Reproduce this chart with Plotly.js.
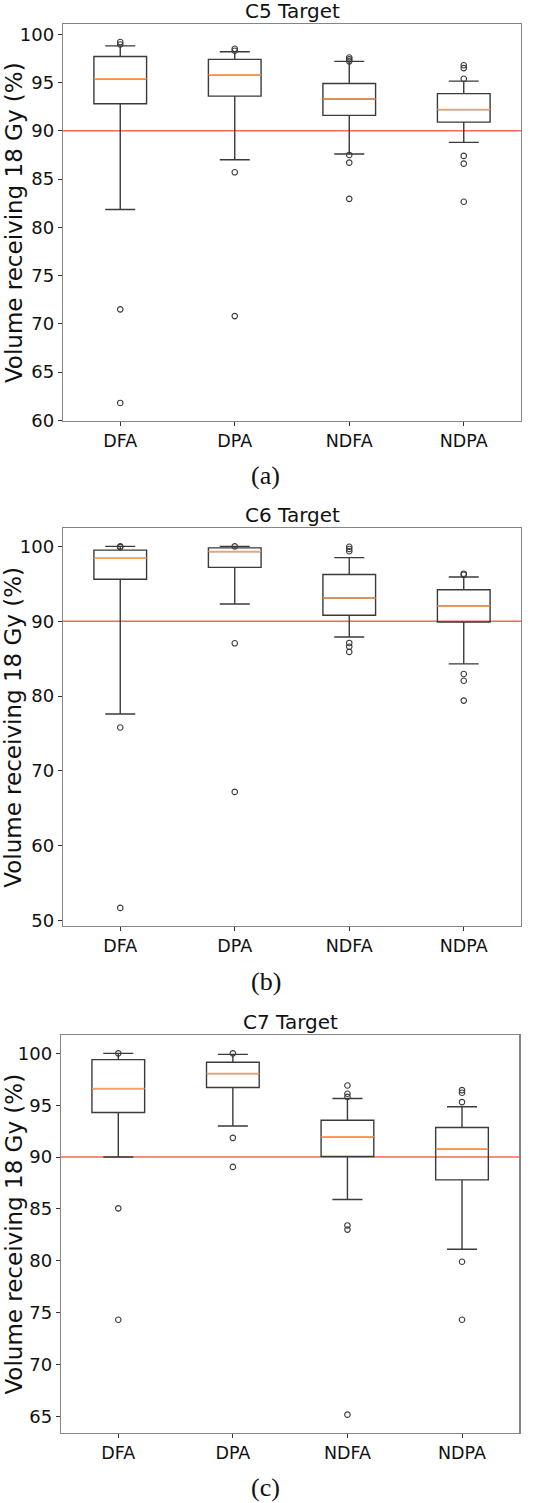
<!DOCTYPE html>
<html>
<head>
<meta charset="utf-8">
<script src="https://cdn.plot.ly/plotly-3.0.1.min.js"></script>
<style>
  html, body { margin: 0; padding: 0; background: #ffffff; }
  #chart { width: 541px; height: 1503px; }
</style>
</head>
<body>
<div id="chart"></div>
<script>
// ---------------- data ----------------
const categories = ['DFA', 'DPA', 'NDFA', 'NDPA'];
const positions = [1, 2, 3, 4];
const threshold = 90;

// C5 target
const c5Title = 'C5 Target';
const c5Q1 = [92.8, 93.6, 91.6, 90.9];
const c5Median = [95.4, 95.8, 93.3, 92.2];
const c5Q3 = [97.7, 97.4, 94.9, 93.85];
const c5Lower = [81.85, 87.0, 87.6, 88.8];
const c5Upper = [98.8, 98.2, 97.2, 95.15];
const c5Outliers = [
  [99.2, 98.95, 71.5, 61.8],
  [98.5, 98.3, 85.7, 70.8],
  [97.6, 97.4, 97.2, 87.5, 86.7, 82.95],
  [96.8, 96.5, 95.4, 87.4, 86.6, 82.65]
];
const c5Dtick = 5;

// C6 target
const c6Title = 'C6 Target';
const c6Q1 = [95.6, 97.2, 90.8, 89.9];
const c6Median = [98.4, 99.3, 93.1, 92.05];
const c6Q3 = [99.5, 99.8, 96.25, 94.2];
const c6Lower = [77.6, 92.3, 87.9, 84.3];
const c6Upper = [100, 100, 98.5, 95.9];
const c6Outliers = [
  [100, 99.9, 75.8, 51.7],
  [100, 87.05, 67.2],
  [99.95, 99.65, 99.35, 87.1, 86.6, 85.9],
  [96.35, 96.2, 82.95, 82.05, 79.4]
];
const c6Dtick = 10;

// C7 target
const c7Title = 'C7 Target';
const c7Q1 = [94.3, 96.7, 90.05, 87.8];
const c7Median = [96.6, 98.05, 91.95, 90.8];
const c7Q3 = [99.4, 99.15, 93.55, 92.85];
const c7Lower = [90.0, 93.0, 85.9, 81.1];
const c7Upper = [100, 99.9, 95.65, 94.85];
const c7Outliers = [
  [100, 85.05, 74.3],
  [100, 91.85, 89.05],
  [96.9, 96.1, 95.8, 83.4, 83.0, 65.15],
  [96.45, 96.2, 95.3, 79.9, 74.3]
];
const c7Dtick = 5;

const yLabel = 'Volume receiving 18 Gy (%)';
const captions = ['(a)', '(b)', '(c)'];

// ---------------- layout geometry (pixels) ----------------
const W = 541, H = 1503;
const panels = [
  { title: c5Title, q1: c5Q1, med: c5Median, q3: c5Q3, lo: c5Lower, hi: c5Upper, out: c5Outliers, dtick: c5Dtick,
    left: 63, right: 521, top: 24, bottom: 421, cap: [265, 475.5] },
  { title: c6Title, q1: c6Q1, med: c6Median, q3: c6Q3, lo: c6Lower, hi: c6Upper, out: c6Outliers, dtick: c6Dtick,
    left: 63, right: 521, top: 528.3, bottom: 926, cap: [265.5, 981.7] },
  { title: c7Title, q1: c7Q1, med: c7Median, q3: c7Q3, lo: c7Lower, hi: c7Upper, out: c7Outliers, dtick: c7Dtick,
    left: 61, right: 519.3, top: 1035.3, bottom: 1432.7, cap: [265.3, 1487.5] }
];

const BOX_COLOR = '#3a3a3a';
const MEDIAN_COLOR = '#f9a05c';
const LINE_COLOR = '#f26b53';
const SPINE_COLOR = '#858585';
const FONT = 'DejaVu Sans, sans-serif';

const traces = [];
const shapes = [];
const annotations = [];
const layout = {
  width: W, height: H,
  margin: { l: 0, r: 0, t: 0, b: 0, pad: 0 },
  paper_bgcolor: '#ffffff',
  plot_bgcolor: '#ffffff',
  showlegend: false,
  boxmode: 'overlay',
  font: { family: FONT, color: '#111111' }
};

panels.forEach((p, i) => {
  const n = i === 0 ? '' : String(i + 1);
  const xa = 'x' + n, ya = 'y' + n;
  const xk = 'xaxis' + n, yk = 'yaxis' + n;

  // outliers flattened with their category positions
  const ox = [], oy = [];
  p.out.forEach((arr, k) => arr.forEach(v => { ox.push(positions[k]); oy.push(v); }));

  // matplotlib-like 5% autoscale margins
  const all = [].concat(p.lo, p.hi, oy);
  const mn = Math.min(...all), mx = Math.max(...all);
  const pad = (mx - mn) * 0.05;

  traces.push({
    type: 'box', x: positions, q1: p.q1, median: p.med, q3: p.q3,
    lowerfence: p.lo, upperfence: p.hi,
    boxpoints: false, width: 0.46, whiskerwidth: 0.57,
    fillcolor: 'rgba(0,0,0,0)',
    line: { color: BOX_COLOR, width: 1.4 },
    xaxis: xa, yaxis: ya, hoverinfo: 'skip'
  });
  // median lines in orange (zero-height box drawn at the median)
  traces.push({
    type: 'box', x: positions, q1: p.med, median: p.med, q3: p.med,
    lowerfence: p.med, upperfence: p.med,
    boxpoints: false, width: 0.46, whiskerwidth: 0,
    fillcolor: 'rgba(0,0,0,0)',
    line: { color: MEDIAN_COLOR, width: 1.5 },
    xaxis: xa, yaxis: ya, hoverinfo: 'skip'
  });
  traces.push({
    type: 'scatter', mode: 'markers', x: ox, y: oy,
    marker: { symbol: 'circle-open', size: 5.5, color: BOX_COLOR, line: { width: 1.1, color: BOX_COLOR } },
    xaxis: xa, yaxis: ya, hoverinfo: 'skip', cliponaxis: false
  });

  layout[xk] = {
    domain: [p.left / W, p.right / W],
    anchor: ya,
    range: [0.5, 4.5],
    tickmode: 'array', tickvals: positions, ticktext: categories,
    ticks: 'outside', ticklen: 4, tickwidth: 1, tickcolor: '#333333',
    tickfont: { family: FONT, size: 17.5, color: '#111111' },
    showline: true, mirror: true, linecolor: SPINE_COLOR, linewidth: 1.2,
    showgrid: false, zeroline: false, fixedrange: true
  };
  layout[yk] = {
    domain: [1 - p.bottom / H, 1 - p.top / H],
    anchor: xa,
    range: [mn - pad, mx + pad],
    tick0: 0, dtick: p.dtick,
    ticks: 'outside', ticklen: 4, tickwidth: 1, tickcolor: '#333333',
    tickfont: { family: FONT, size: 18, color: '#111111' },
    showline: true, mirror: true, linecolor: SPINE_COLOR, linewidth: 1.2,
    showgrid: false, zeroline: false, fixedrange: true
  };

  shapes.push({
    type: 'line', xref: xa + ' domain', yref: ya,
    x0: 0, x1: 1, y0: threshold, y1: threshold,
    line: { color: LINE_COLOR, width: 1.5 }, layer: 'below'
  });

  annotations.push({
    text: p.title, xref: 'paper', yref: 'paper',
    x: ((p.left + p.right) / 2) / W, y: 1 - (p.top - 0.3) / H,
    xanchor: 'center', yanchor: 'bottom', showarrow: false, borderpad: 0,
    font: { family: FONT, size: 20, color: '#111111' }
  });
  annotations.push({
    text: yLabel, xref: 'paper', yref: 'paper',
    x: 13.6 / W, y: 1 - ((p.top + p.bottom) / 2) / H,
    xanchor: 'center', yanchor: 'middle', textangle: -90, showarrow: false, borderpad: 0,
    font: { family: FONT, size: 23, color: '#111111' }
  });
  annotations.push({
    text: captions[i], xref: 'paper', yref: 'paper',
    x: p.cap[0] / W, y: 1 - p.cap[1] / H,
    xanchor: 'center', yanchor: 'middle', showarrow: false, borderpad: 0,
    font: { family: 'Liberation Serif, Times New Roman, serif', size: 26, color: '#111111' }
  });
});

layout.shapes = shapes;
layout.annotations = annotations;

Plotly.newPlot('chart', traces, layout, { staticPlot: true, displayModeBar: false });
</script>
</body>
</html>
